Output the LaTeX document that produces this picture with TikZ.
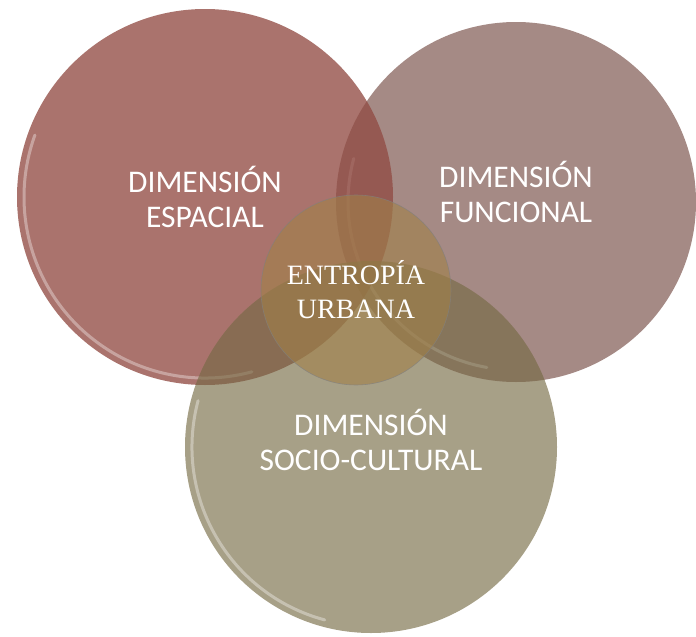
\documentclass[tikz,border=0pt]{standalone}
\usepackage{fontspec}
\setmainfont{Liberation Serif}
\setsansfont{Carlito}
\definecolor{espacial}{RGB}{146,76,68}
\definecolor{funcional}{RGB}{140,105,99}
\definecolor{social}{RGB}{118,106,68}
\definecolor{entropia}{RGB}{160,128,72}

\begin{document}
\begin{tikzpicture}[
    x=1pt, y=-1pt,
    dim/.style={circle, inner sep=0pt, align=center, text=white, text opacity=1, font=\sffamily\fontsize{31.5}{35}\selectfont},
    core/.style={circle, inner sep=0pt, draw=gray, draw opacity=0.7, line width=0.6pt, fill=entropia, fill opacity=0.6, text=white, text opacity=1, align=center, font=\fontsize{28}{34}\selectfont},
    rim/.style={white, opacity=0.35, line width=3pt, line cap=round}]
  \useasboundingbox (0,0) rectangle (696,637);
  \node[dim, fill=funcional, fill opacity=0.78, minimum size=360pt, text depth=20pt] (F) at (516,202) {DIMENSIÓN\\FUNCIONAL};
  \draw[rim, opacity=0.5] (F.center) ++(100:168) arc[start angle=100, end angle=195, radius=168];
  \node[dim, fill=espacial, fill opacity=0.78, minimum size=376pt] (E) at (205,197) {DIMENSIÓN\\ESPACIAL};
  \draw[rim] (E.center) ++(75:181) arc[start angle=75, end angle=200, radius=181];
  \node[dim, fill=social, fill opacity=0.64, minimum size=372pt, text depth=14pt] (S) at (371,447) {DIMENSIÓN\\SOCIO-CULTURAL};
  \draw[rim] (S.center) ++(105:179) arc[start angle=105, end angle=195, radius=179];
  \node[core, minimum size=190pt] (C) at (356,290) {ENTROPÍA\\URBANA};
\end{tikzpicture}
\end{document}
